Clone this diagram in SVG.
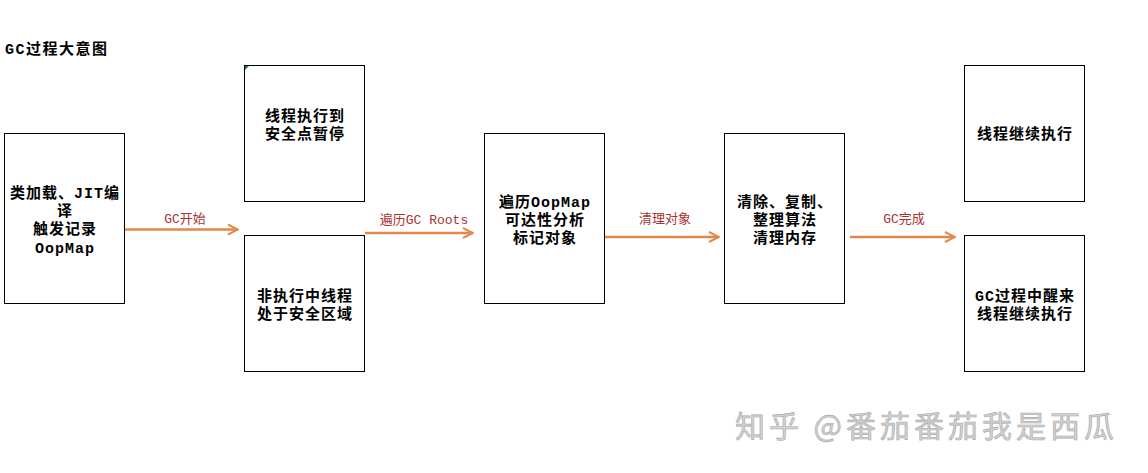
<svg xmlns="http://www.w3.org/2000/svg" width="1148" height="473" viewBox="0 0 1148 473">
  <defs>
    <marker id="head" viewBox="0 0 12 12" refX="11" refY="6" markerWidth="12" markerHeight="12" markerUnits="userSpaceOnUse" orient="auto">
      <path d="M1,1 L11,6 L1,11" fill="none" stroke="#e0894a" stroke-width="2"/>
    </marker>
    <style>
      .box { fill: #ffffff; stroke: #000000; stroke-width: 1; }
      .t { font-family: "Liberation Mono", "Noto Sans CJK SC", monospace; font-size: 15px; font-weight: bold; fill: #000; text-anchor: middle; letter-spacing: 1px; }
      .lbl { font-family: "Liberation Mono", "Noto Sans CJK SC", monospace; font-size: 13px; fill: #a83232; text-anchor: middle; }
      .edge { stroke: #e0894a; stroke-width: 2.5; fill: none; marker-end: url(#head); }
    </style>
  </defs>
  <rect width="1148" height="473" fill="#ffffff"/>

  <text x="5" y="54" font-family="Liberation Mono, Noto Sans CJK SC, monospace" font-size="15" font-weight="bold" letter-spacing="1.5" fill="#000">GC过程大意图</text>

  <g id="connectors">
    <line class="edge" x1="125" y1="229.5" x2="238" y2="229.5"/>
    <text class="lbl" x="185" y="223">GC开始</text>
    <line class="edge" x1="365" y1="233" x2="473" y2="233"/>
    <text class="lbl" x="424" y="224">遍历GC Roots</text>
    <line class="edge" x1="605" y1="237" x2="719" y2="237"/>
    <text class="lbl" x="665" y="223">清理对象</text>
    <line class="edge" x1="850" y1="237" x2="955" y2="237"/>
    <text class="lbl" x="904" y="223">GC完成</text>
  </g>

  <g id="node-load">
    <rect class="box" x="4.5" y="133.5" width="120" height="170"/>
    <text class="t" x="65" y="198">类加载、JIT编</text>
    <text class="t" x="65" y="216">译</text>
    <text class="t" x="65" y="234">触发记录</text>
    <text class="t" x="65" y="253">OopMap</text>
  </g>

  <g id="node-safepoint">
    <rect class="box" x="244.5" y="65.5" width="120" height="136"/>
    <path d="M245,66 L249,66 L245,70 Z" fill="#2e7d32"/>
    <text class="t" x="305" y="121">线程执行到</text>
    <text class="t" x="305" y="139">安全点暂停</text>
  </g>

  <g id="node-saferegion">
    <rect class="box" x="244.5" y="235.5" width="120" height="136"/>
    <text class="t" x="305" y="301">非执行中线程</text>
    <text class="t" x="305" y="319">处于安全区域</text>
  </g>

  <g id="node-mark">
    <rect class="box" x="484.5" y="133.5" width="120" height="170"/>
    <text class="t" x="545" y="207">遍历OopMap</text>
    <text class="t" x="545" y="225">可达性分析</text>
    <text class="t" x="545" y="243">标记对象</text>
  </g>

  <g id="node-sweep">
    <rect class="box" x="724.5" y="133.5" width="120" height="170"/>
    <text class="t" x="785" y="207">清除、复制、</text>
    <text class="t" x="785" y="225">整理算法</text>
    <text class="t" x="785" y="243">清理内存</text>
  </g>

  <g id="node-resume">
    <rect class="box" x="964.5" y="65.5" width="120" height="136"/>
    <text class="t" x="1025" y="139">线程继续执行</text>
  </g>

  <g id="node-wake">
    <rect class="box" x="964.5" y="235.5" width="120" height="136"/>
    <text class="t" x="1025" y="301">GC过程中醒来</text>
    <text class="t" x="1025" y="319">线程继续执行</text>
  </g>

  <text x="1118" y="437" text-anchor="end" font-family="Noto Sans CJK SC, sans-serif" font-size="30" letter-spacing="4" fill="#d2d2d2" stroke="#a8a8a8" stroke-width="0.6">知乎 @番茄番茄我是西瓜</text>
</svg>
